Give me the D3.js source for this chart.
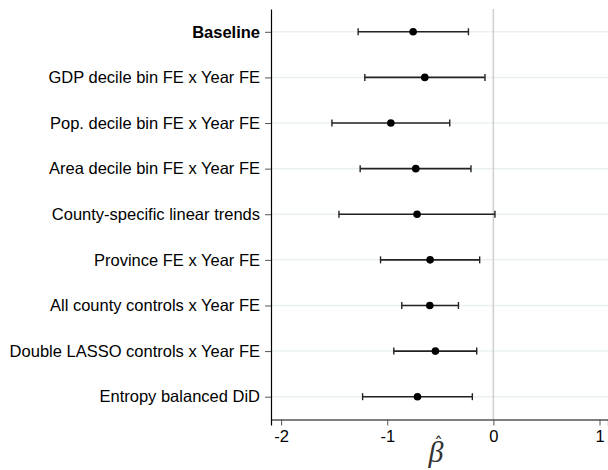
<!DOCTYPE html>
<html>
<head>
<meta charset="utf-8">
<script src="https://cdn.jsdelivr.net/npm/d3@7"></script>
<style>
  body { margin: 0; background: #fff; }
  text { font-family: "Liberation Sans", Arial, sans-serif; }
</style>
</head>
<body>
<svg class="chart"></svg>
<script>
// specifications, top to bottom
var specs = [
  "Baseline",
  "GDP decile bin FE x Year FE",
  "Pop. decile bin FE x Year FE",
  "Area decile bin FE x Year FE",
  "County-specific linear trends",
  "Province FE x Year FE",
  "All county controls x Year FE",
  "Double LASSO controls x Year FE",
  "Entropy balanced DiD"
];
var estimates = [-0.756, -0.646, -0.966, -0.731, -0.719, -0.596, -0.599, -0.546, -0.715];
var ciLow = [-1.274, -1.211, -1.521, -1.255, -1.455, -1.063, -0.863, -0.938, -1.232];
var ciHigh = [-0.235, -0.079, -0.411, -0.211, 0.015, -0.129, -0.329, -0.157, -0.198];
var xTicks = [-2, -1, 0, 1];

var width = 608, height = 470;
var plotLeft = 271, plotTop = 9, plotBottom = 419.5, plotRight = 608;

var svg = d3.select(".chart")
    .attr("width", width)
    .attr("height", height);

var x = d3.scaleLinear()
    .domain([-2.095, 1.08])
    .range([plotLeft, plotRight]);

var y = d3.scalePoint()
    .domain(specs)
    .range([plotTop, plotBottom])
    .padding(0.5);

var rows = specs.map(function(s, i) {
  return { name: s, est: estimates[i], lo: ciLow[i], hi: ciHigh[i] };
});

// horizontal grid
svg.append("g").selectAll("line")
  .data(specs)
  .enter().append("line")
    .attr("x1", plotLeft).attr("x2", plotRight)
    .attr("y1", function(d) { return y(d); })
    .attr("y2", function(d) { return y(d); })
    .attr("stroke", "#eaf0f2")
    .attr("stroke-width", 1.5);

// zero line
svg.append("line")
    .attr("x1", x(0)).attr("x2", x(0))
    .attr("y1", plotTop).attr("y2", plotBottom)
    .attr("stroke", "#cfcfcf")
    .attr("stroke-width", 1.5);

// x axis
var xAxis = svg.append("g")
    .attr("transform", "translate(0," + plotBottom + ")")
    .call(d3.axisBottom(x).tickValues(xTicks).tickSize(6).tickPadding(5).tickFormat(d3.format("d")));
xAxis.select(".domain").attr("stroke", "#000").attr("stroke-width", 1.2);
xAxis.selectAll(".tick line").attr("stroke", "#555");
xAxis.selectAll(".tick text")
    .attr("font-size", 16.5)
    .attr("fill", "#000")
    .text(function(d) { return d < 0 ? "-" + Math.abs(d) : d; });

// y axis
var yAxis = svg.append("g")
    .attr("transform", "translate(" + plotLeft + ",0)")
    .call(d3.axisLeft(y).tickSize(6).tickPadding(5).tickSizeOuter(0));
yAxis.select(".domain").attr("stroke", "#000").attr("stroke-width", 1.2);
yAxis.selectAll(".tick line").attr("stroke", "#555");
yAxis.selectAll(".tick text")
    .attr("font-size", 16.5)
    .attr("fill", "#000")
    .attr("font-weight", function(d) { return d == "Baseline" ? "bold" : "normal"; });

// error bars
var bar = svg.append("g").selectAll("g")
  .data(rows)
  .enter().append("g")
    .attr("transform", function(d) { return "translate(0," + y(d.name) + ")"; });

bar.append("line")
    .attr("x1", function(d) { return x(d.lo); })
    .attr("x2", function(d) { return x(d.hi); })
    .attr("stroke", "#222")
    .attr("stroke-width", 1.6);
bar.append("line")
    .attr("x1", function(d) { return x(d.lo); })
    .attr("x2", function(d) { return x(d.lo); })
    .attr("y1", -3.5).attr("y2", 3.5)
    .attr("stroke", "#222")
    .attr("stroke-width", 1.4);
bar.append("line")
    .attr("x1", function(d) { return x(d.hi); })
    .attr("x2", function(d) { return x(d.hi); })
    .attr("y1", -3.5).attr("y2", 3.5)
    .attr("stroke", "#222")
    .attr("stroke-width", 1.4);
bar.append("circle")
    .attr("cx", function(d) { return x(d.est); })
    .attr("r", 3.8)
    .attr("fill", "#000");

// x label: beta with a hat
svg.append("text")
    .attr("x", 436)
    .attr("y", 462)
    .attr("text-anchor", "middle")
    .attr("font-size", 30)
    .attr("font-style", "italic")
    .style("font-family", "'Liberation Serif', serif")
    .attr("fill", "#333")
    .text("\u03B2");
svg.append("text")
    .attr("x", 438.5)
    .attr("y", 450)
    .attr("text-anchor", "middle")
    .attr("font-size", 18)
    .style("font-family", "'DejaVu Sans', sans-serif")
    .attr("fill", "#333")
    .text("\u02C6");
</script>
</body>
</html>
